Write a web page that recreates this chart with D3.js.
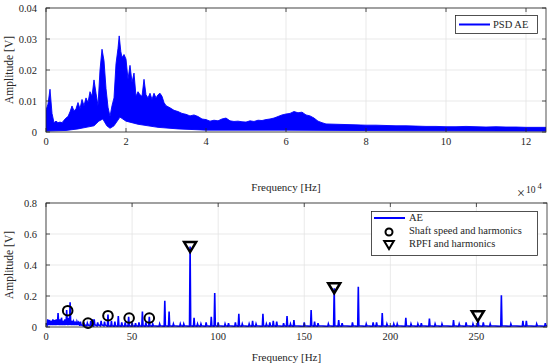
<!DOCTYPE html>
<html>
<head>
<meta charset="utf-8">
<script src="https://cdn.jsdelivr.net/npm/d3@7"></script>
<style>
  body { margin: 0; background: #fff; }
  text { font-family: "Liberation Serif", "Times New Roman", serif; fill: #262626; }
</style>
</head>
<body>
<script>
// ---- top panel: PSD AE band, upper and lower edge ----
const psdHiFreq = [0, 500, 1000, 1500, 2000, 2500, 3000, 3500, 4000, 4500, 5000, 5500, 6000, 6500, 7000, 7500,
  8000, 8500, 9000, 9500, 10000, 10500, 11000, 11500, 12000, 12500, 13000, 13500, 14000, 14500, 15000, 15500,
  16000, 16500, 17000, 17500, 18000, 18300, 18700, 19000, 19500, 20000, 20500, 21000, 21500, 22000, 22500,
  23000, 23500, 24000, 24500, 25000, 25500, 26000, 26500, 27000, 27500, 28000, 28500, 29000, 29500, 30000,
  31000, 32000, 33000, 34000, 35000, 36000, 37000, 38000, 39000, 40000, 41000, 42000, 43000, 44000, 45000,
  46000, 47000, 48000, 49000, 50000, 51000, 52000, 53000, 54000, 55000, 56000, 57000, 58000, 59000, 60000,
  61000, 62000, 63000, 64000, 65000, 66000, 67000, 68000, 69000, 70000, 72500, 75000, 77500, 80000, 82500,
  85000, 87500, 90000, 92500, 95000, 97500, 100000, 102500, 105000, 107500, 110000, 112500, 115000, 117500,
  120000, 122500, 125000];
const psdUpper = [0.007, 0.009, 0.0138, 0.006, 0.003, 0.0035, 0.003, 0.0032, 0.003, 0.0038, 0.0045, 0.005, 0.0065,
  0.0084, 0.0068, 0.0075, 0.0095, 0.0075, 0.0105, 0.0085, 0.011, 0.0095, 0.013, 0.0115, 0.0168, 0.0125, 0.0085,
  0.02, 0.0267, 0.023, 0.014, 0.008, 0.005, 0.0085, 0.011, 0.022, 0.027, 0.031, 0.026, 0.024, 0.025, 0.0235, 0.017,
  0.0215, 0.016, 0.019, 0.0115, 0.013, 0.012, 0.0115, 0.017, 0.012, 0.011, 0.0125, 0.0105, 0.0125, 0.011, 0.012,
  0.0125, 0.0115, 0.0095, 0.0085, 0.0078, 0.007, 0.0066, 0.006, 0.0057, 0.0052, 0.0055, 0.005, 0.0042, 0.004,
  0.0035, 0.0038, 0.0036, 0.0042, 0.0045, 0.0036, 0.0034, 0.0035, 0.0033, 0.0032, 0.0036, 0.0034, 0.0038, 0.0037,
  0.004, 0.0042, 0.0045, 0.005, 0.0055, 0.0058, 0.006, 0.0066, 0.0062, 0.0064, 0.0055, 0.0052, 0.0045, 0.0035,
  0.003, 0.0026, 0.0025, 0.0024, 0.0023, 0.0022, 0.0022, 0.0021, 0.002, 0.002, 0.0019, 0.0018, 0.0018, 0.0017,
  0.0017, 0.0018, 0.0017, 0.0016, 0.0017, 0.0016, 0.0016, 0.0015, 0.0015, 0.0015];
const psdLoFreq = [0, 5000, 8000, 10000, 12000, 13200, 14200, 15200, 16000, 17000, 18500, 20000, 23000, 28000,
  33000, 40000, 60000, 90000, 125000];
const psdLower = [0.0003, 0.0005, 0.001, 0.0015, 0.002, 0.0035, 0.0042, 0.002, 0.0012, 0.002, 0.0048, 0.0035,
  0.0025, 0.0015, 0.001, 0.0006, 0.0006, 0.0004, 0.0003];
const topXTicks = [0, 2, 4, 6, 8, 10, 12];
const topYTicks = [0, 0.01, 0.02, 0.03, 0.04];

// ---- bottom panel: AE spectrum peaks ----
const aePeakFreq = [1, 2, 3, 4, 5, 6, 7, 8, 9, 10, 11, 12, 13, 14, 15, 16, 17, 18, 19, 20, 22, 24, 26, 27, 28, 30, 32, 34,
  36, 38, 40, 42, 44, 46, 48, 50, 52, 54, 56, 58, 60, 62, 66, 69, 71.5, 74, 78, 80, 83.7, 86, 88, 90, 93, 96, 98, 100,
  104, 106, 110, 112, 114, 118, 120, 122, 126, 128, 130, 132, 134, 138, 140, 142, 144, 150, 154, 156, 158, 164, 167.4,
  170, 172, 178, 181.4, 186, 190, 192, 195.3, 198, 202, 204, 209, 212, 216, 218, 222.7, 226, 230, 236.7, 240, 244, 248,
  251, 254, 258, 264.5, 270, 277, 279, 285, 290];
const aePeakAmp = [0.05, 0.045, 0.04, 0.05, 0.045, 0.05, 0.09, 0.05, 0.06, 0.04, 0.05, 0.11, 0.06, 0.16, 0.04, 0.035, 0.03,
  0.035, 0.03, 0.035, 0.03, 0.025, 0.04, 0.05, 0.05, 0.03, 0.04, 0.035, 0.08, 0.04, 0.035, 0.07, 0.03, 0.03, 0.065, 0.03,
  0.025, 0.03, 0.1, 0.03, 0.065, 0.02, 0.02, 0.17, 0.1, 0.02, 0.02, 0.02, 0.52, 0.06, 0.02, 0.02, 0.03, 0.065, 0.22,
  0.03, 0.02, 0.025, 0.03, 0.085, 0.02, 0.02, 0.04, 0.02, 0.085, 0.02, 0.03, 0.04, 0.035, 0.025, 0.07, 0.02, 0.045,
  0.03, 0.11, 0.035, 0.025, 0.02, 0.25, 0.045, 0.025, 0.03, 0.26, 0.02, 0.03, 0.03, 0.09, 0.02, 0.02, 0.02, 0.06, 0.02,
  0.02, 0.025, 0.055, 0.02, 0.02, 0.045, 0.02, 0.03, 0.02, 0.05, 0.03, 0.02, 0.205, 0.02, 0.04, 0.04, 0.02, 0.025];
const aeFloorEdge = [0, 20, 35, 291];
const aeFloorLevel = [0.025, 0.014, 0.008];
const shaftFreq = [12.6, 24.4, 36, 48.3, 60];
const shaftAmp = [0.105, 0.025, 0.073, 0.058, 0.058];
const rpfiFreq = [83.7, 167.4, 250.8];
const rpfiAmp = [0.516, 0.25, 0.07];
const botXTicks = [0, 50, 100, 150, 200, 250];
const botYTicks = [0, 0.2, 0.4, 0.6, 0.8];

const W = 550, H = 364;
const blue = "#0000ff";
const svg = d3.select("body").append("svg").attr("width", W).attr("height", H);

function frame(x, y, xTicks, yTicks, xFmt, yFmt, labelY, id) {
  const g = svg.append("g");
  const [x0, x1] = x.range();
  const [y0, y1] = y.range();
  g.append("clipPath").attr("id", id).append("rect")
    .attr("x", x0).attr("y", y1).attr("width", x1 - x0).attr("height", y0 - y1);
  // grid
  g.selectAll(".gx").data(xTicks).enter().append("line")
    .attr("x1", d => x(d)).attr("x2", d => x(d)).attr("y1", y1).attr("y2", y0)
    .attr("stroke", "#e3e3e3").attr("stroke-width", 0.8);
  g.selectAll(".gy").data(yTicks).enter().append("line")
    .attr("y1", d => y(d)).attr("y2", d => y(d)).attr("x1", x0).attr("x2", x1)
    .attr("stroke", "#e3e3e3").attr("stroke-width", 0.8);
  // tick labels
  g.selectAll(".tx").data(xTicks).enter().append("text")
    .attr("x", d => x(d)).attr("y", y0 + 13).attr("text-anchor", "middle")
    .attr("font-size", 10.5).text(xFmt);
  g.selectAll(".ty").data(yTicks).enter().append("text")
    .attr("x", x0 - 9).attr("y", d => y(d) + 3.5).attr("text-anchor", "end")
    .attr("font-size", 10.5).text(yFmt);
  g.append("text").attr("transform", `translate(13,${(y0 + y1) / 2}) rotate(-90)`)
    .attr("text-anchor", "middle").attr("font-size", 11.5).text("Amplitude [V]");
  g.append("text").attr("x", (x0 + x1) / 2 - 10).attr("y", labelY)
    .attr("text-anchor", "middle").attr("font-size", 11).text("Frequency [Hz]");
  return g;
}

function box(x, y, xTicks, yTicks) {
  const g = svg.append("g");
  const [x0, x1] = x.range();
  const [y0, y1] = y.range();
  g.selectAll(".kx").data(xTicks).enter().append("path")
    .attr("d", d => `M${x(d)},${y0}v-4M${x(d)},${y1}v4`).attr("stroke", "#262626").attr("stroke-width", 0.8);
  g.selectAll(".ky").data(yTicks).enter().append("path")
    .attr("d", d => `M${x0},${y(d)}h4M${x1},${y(d)}h-4`).attr("stroke", "#262626").attr("stroke-width", 0.8);
  g.append("rect").attr("x", x0).attr("y", y1).attr("width", x1 - x0).attr("height", y0 - y1)
    .attr("fill", "none").attr("stroke", "#262626").attr("stroke-width", 0.8);
}

// ---------- top panel ----------
const xT = d3.scaleLinear().domain([0, 125000]).range([46, 546]);
const yT = d3.scaleLinear().domain([0, 0.04]).range([132, 8]);
const gT = frame(xT, yT, topXTicks.map(d => d * 1e4), topYTicks, d => d / 1e4, d => d === 0 ? "0" : d3.format(".2f")(d), 191, "clipT");

const hiPts = psdHiFreq.map((f, i) => [xT(f), yT(psdUpper[i])]);
const loPts = psdLoFreq.map((f, i) => [xT(f), yT(psdLower[i])]).reverse();
gT.append("path").attr("clip-path", "url(#clipT)")
  .attr("d", d3.line()(hiPts.concat(loPts)) + "Z")
  .attr("fill", blue).attr("stroke", blue).attr("stroke-width", 0.9).attr("stroke-linejoin", "bevel");
box(xT, yT, topXTicks.map(d => d * 1e4), topYTicks);

// x10^4 exponent
const ex = svg.append("text").attr("x", 517).attr("y", 198).attr("font-size", 14);
ex.append("tspan").text("\u00d7");
ex.append("tspan").attr("dx", 1).attr("dy", -5).attr("font-size", 9.5).text("10");
ex.append("tspan").attr("dx", 2).attr("dy", -4).attr("font-size", 8.5).text("4");

// top legend
svg.append("rect").attr("x", 455.5).attr("y", 15.5).attr("width", 82).attr("height", 18)
  .attr("fill", "#fff").attr("stroke", "#262626").attr("stroke-width", 0.8);
svg.append("line").attr("x1", 459).attr("x2", 490).attr("y1", 24.5).attr("y2", 24.5)
  .attr("stroke", blue).attr("stroke-width", 2);
svg.append("text").attr("x", 493).attr("y", 28).attr("font-size", 10.5).text("PSD AE");

// ---------- bottom panel ----------
const xB = d3.scaleLinear().domain([0, 291]).range([46, 547]);
const yB = d3.scaleLinear().domain([0, 0.8]).range([327, 203]);
const gB = frame(xB, yB, botXTicks, botYTicks, d => d, d => d === 0 ? "0" : d3.format(".1f")(d), 361, "clipB");

function floorAt(f) {
  const i = d3.bisectRight(aeFloorEdge, f) - 1;
  return aeFloorLevel[Math.max(0, Math.min(aeFloorLevel.length - 1, i))];
}
const aePts = [{ f: 0, a: floorAt(0) }];
aePeakFreq.forEach((f, i) => {
  aePts.push({ f: f - 0.35, a: floorAt(f) * 0.5 });
  aePts.push({ f: f, a: aePeakAmp[i] });
  aePts.push({ f: f + 0.35, a: floorAt(f) });
});
aePts.push({ f: 291, a: floorAt(290) });
gB.append("path").datum(aePts).attr("clip-path", "url(#clipB)")
  .attr("d", d3.line().x(d => xB(d.f)).y(d => yB(d.a)))
  .attr("fill", "none").attr("stroke", blue).attr("stroke-width", 1.6);
box(xB, yB, botXTicks, botYTicks);

const tri = "M-6,-5L6,-5L0,5Z";
gB.selectAll(".sh").data(shaftFreq).enter().append("circle")
  .attr("cx", d => xB(d)).attr("cy", (d, i) => yB(shaftAmp[i])).attr("r", 4.8)
  .attr("fill", "none").attr("stroke", "#000").attr("stroke-width", 2);
gB.selectAll(".rp").data(rpfiFreq).enter().append("path")
  .attr("transform", (d, i) => `translate(${xB(d)},${yB(rpfiAmp[i])})`)
  .attr("d", tri).attr("fill", "none").attr("stroke", "#000").attr("stroke-width", 2.5)
  .attr("stroke-linejoin", "miter");

// bottom legend
const lg = svg.append("g");
lg.append("rect").attr("x", 371.5).attr("y", 211.5).attr("width", 166).attr("height", 44)
  .attr("fill", "#fff").attr("stroke", "#262626").attr("stroke-width", 0.8);
lg.append("line").attr("x1", 374).attr("x2", 405).attr("y1", 218).attr("y2", 218)
  .attr("stroke", blue).attr("stroke-width", 2);
lg.append("circle").attr("cx", 389).attr("cy", 232).attr("r", 3.5)
  .attr("fill", "none").attr("stroke", "#000").attr("stroke-width", 2);
lg.append("path").attr("transform", "translate(389,245) scale(0.8)").attr("d", tri)
  .attr("fill", "none").attr("stroke", "#000").attr("stroke-width", 2.5);
lg.append("text").attr("x", 409).attr("y", 221).attr("font-size", 10.5).text("AE");
lg.append("text").attr("x", 409).attr("y", 234).attr("font-size", 10.5).text("Shaft speed and harmonics");
lg.append("text").attr("x", 409).attr("y", 247).attr("font-size", 10.5).text("RPFI and harmonics");
</script>
</body>
</html>
